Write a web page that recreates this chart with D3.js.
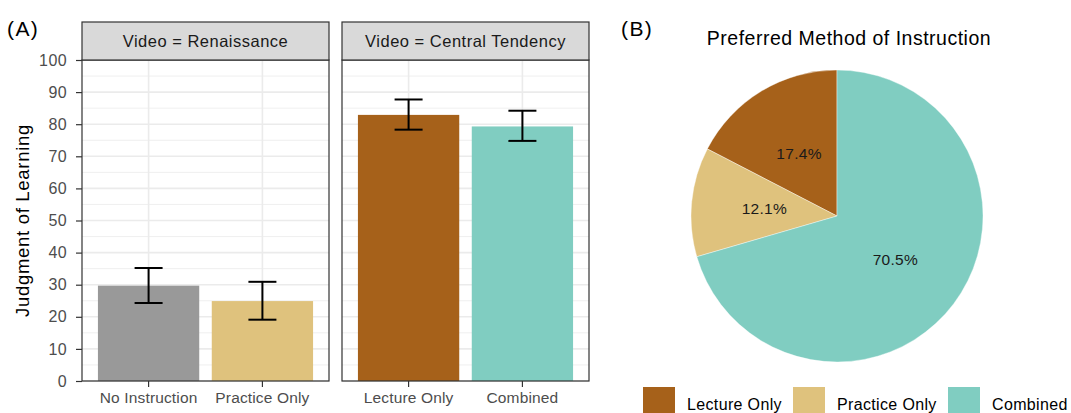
<!DOCTYPE html>
<html>
<head>
<meta charset="utf-8">
<script src="https://cdn.jsdelivr.net/npm/d3@7"></script>
<style>
  body { margin: 0; background: #fff; }
  svg { display: block; font-family: "Liberation Sans", Arial, Helvetica, sans-serif; }
</style>
</head>
<body>
<svg id="chart" width="1071" height="413"></svg>
<script>
// Bar chart data: mean judgment of learning with error bars, per video
const panels = ["Video = Renaissance", "Video = Central Tendency"];
const panelCategories = [["No Instruction", "Practice Only"], ["Lecture Only", "Combined"]];
const jolMeans = [[29.7, 24.9], [82.9, 79.3]];
const jolLower = [[24.3, 19.1], [78.3, 74.8]];
const jolUpper = [[35.2, 30.9], [87.7, 84.2]];
const barColors = [["#999999", "#dfc27d"], ["#a6611a", "#80cdc1"]];
const yTicks = [0, 10, 20, 30, 40, 50, 60, 70, 80, 90, 100];

// Pie chart data: preferred method of instruction
const pieLabels = ["Lecture Only", "Practice Only", "Combined"];
const piePercents = [17.4, 12.1, 70.5];
const pieColors = ["#a6611a", "#dfc27d", "#80cdc1"];

const svg = d3.select("#chart");
const FONT = '"Liberation Sans", Arial, Helvetica, sans-serif';

// ---------- Panel (A): faceted bar chart ----------
const plotTop = 60, plotBottom = 381, stripTop = 22;
const panelX = [[82, 329], [342, 589]];
const y = d3.scaleLinear().domain([0, 100]).range([plotBottom, plotTop]);
const minorTicks = d3.range(5, 100, 10);

svg.append("text").attr("x", 7).attr("y", 36).attr("font-size", 21)
  .attr("letter-spacing", 1.4).attr("fill", "#000").text("(A)");

panels.forEach((title, p) => {
  const [x0, x1] = panelX[p];
  const x = d3.scaleBand().domain(panelCategories[p]).range([x0, x1])
    .paddingInner(0.11).paddingOuter(0.14);
  const g = svg.append("g");

  // grid
  g.selectAll(".minor").data(minorTicks).join("line")
    .attr("x1", x0).attr("x2", x1).attr("y1", d => y(d)).attr("y2", d => y(d))
    .attr("stroke", "#ebebeb").attr("stroke-width", 0.8);
  g.selectAll(".major").data(yTicks).join("line")
    .attr("x1", x0).attr("x2", x1).attr("y1", d => y(d)).attr("y2", d => y(d))
    .attr("stroke", "#ebebeb").attr("stroke-width", 1.6);
  g.selectAll(".vgrid").data(panelCategories[p]).join("line")
    .attr("x1", d => x(d) + x.bandwidth() / 2).attr("x2", d => x(d) + x.bandwidth() / 2)
    .attr("y1", plotTop).attr("y2", plotBottom)
    .attr("stroke", "#ebebeb").attr("stroke-width", 1.6);

  // bars
  g.selectAll(".bar").data(panelCategories[p]).join("rect")
    .attr("x", d => x(d)).attr("width", x.bandwidth())
    .attr("y", (d, i) => y(jolMeans[p][i]))
    .attr("height", (d, i) => y(0) - y(jolMeans[p][i]))
    .attr("fill", (d, i) => barColors[p][i]);

  // error bars
  const hw = 14;
  panelCategories[p].forEach((c, i) => {
    const cx = x(c) + x.bandwidth() / 2;
    const eg = g.append("g").attr("stroke", "#000").attr("stroke-width", 2).attr("fill", "none");
    eg.append("line").attr("x1", cx).attr("x2", cx).attr("y1", y(jolLower[p][i])).attr("y2", y(jolUpper[p][i]));
    eg.append("line").attr("x1", cx - hw).attr("x2", cx + hw).attr("y1", y(jolLower[p][i])).attr("y2", y(jolLower[p][i]));
    eg.append("line").attr("x1", cx - hw).attr("x2", cx + hw).attr("y1", y(jolUpper[p][i])).attr("y2", y(jolUpper[p][i]));
  });

  // panel border
  g.append("rect").attr("x", x0).attr("y", plotTop).attr("width", x1 - x0).attr("height", plotBottom - plotTop)
    .attr("fill", "none").attr("stroke", "#333").attr("stroke-width", 1.2);

  // strip
  g.append("rect").attr("x", x0).attr("y", stripTop).attr("width", x1 - x0).attr("height", plotTop - stripTop)
    .attr("fill", "#d9d9d9").attr("stroke", "#333").attr("stroke-width", 1.2);
  g.append("text").attr("x", (x0 + x1) / 2).attr("y", 47).attr("text-anchor", "middle")
    .attr("font-size", 16.5).attr("letter-spacing", 0.5).attr("fill", "#1a1a1a").text(title);

  // x axis
  const xAxis = d3.axisBottom(x).tickSize(6).tickPadding(5);
  const xa = g.append("g").attr("transform", `translate(0,${plotBottom})`).call(xAxis);
  xa.select(".domain").remove();
  xa.selectAll(".tick line").attr("stroke", "#333").attr("stroke-width", 1.2);
  xa.selectAll(".tick text").attr("font-size", 15.5).attr("letter-spacing", 0.15)
    .attr("fill", "#4d4d4d").attr("font-family", FONT);

  // y axis on first panel
  if (p === 0) {
    const yAxis = d3.axisLeft(y).tickValues(yTicks).tickSize(6).tickPadding(9);
    const ya = g.append("g").attr("transform", `translate(${x0},0)`).call(yAxis);
    ya.select(".domain").remove();
    ya.selectAll(".tick line").attr("stroke", "#333").attr("stroke-width", 1.2);
    ya.selectAll(".tick text").attr("font-size", 16).attr("letter-spacing", 0.4)
      .attr("fill", "#4d4d4d").attr("font-family", FONT);
  }
});

svg.append("text")
  .attr("transform", `translate(29,${(plotTop + plotBottom) / 2}) rotate(-90)`)
  .attr("text-anchor", "middle").attr("font-size", 18.5).attr("letter-spacing", 0.7)
  .attr("fill", "#000").text("Judgment of Learning");

// ---------- Panel (B): pie chart ----------
svg.append("text").attr("x", 621).attr("y", 36).attr("font-size", 21)
  .attr("letter-spacing", 1.4).attr("fill", "#000").text("(B)");
svg.append("text").attr("x", 849).attr("y", 45).attr("text-anchor", "middle")
  .attr("font-size", 19.5).attr("letter-spacing", 0.5).attr("fill", "#000")
  .text("Preferred Method of Instruction");

const cx = 837, cy = 216, radius = 146;
const pie = d3.pie().sort(null).startAngle(0).endAngle(-2 * Math.PI);
const arcs = pie(piePercents);
const arc = d3.arc().innerRadius(0).outerRadius(radius);
const labelArc = d3.arc().innerRadius(radius * 0.5).outerRadius(radius * 0.5);

const pg = svg.append("g").attr("transform", `translate(${cx},${cy})`);
pg.selectAll("path").data(arcs).join("path")
  .attr("d", arc).attr("fill", (d, i) => pieColors[i])
  .attr("stroke", "#fff").attr("stroke-width", 0.4);
pg.selectAll("text").data(arcs).join("text")
  .attr("transform", d => `translate(${labelArc.centroid(d)})`)
  .attr("text-anchor", "middle").attr("dy", "0.35em")
  .attr("font-size", 15.5).attr("letter-spacing", 0.3).attr("fill", "#1a1a1a")
  .text((d, i) => piePercents[i].toFixed(1) + "%");

// legend
const legendX = [643, 793, 948];
const lg = svg.append("g");
pieLabels.forEach((lab, i) => {
  lg.append("rect").attr("x", legendX[i]).attr("y", 387).attr("width", 32).attr("height", 32)
    .attr("fill", pieColors[i]);
  lg.append("text").attr("x", legendX[i] + 44).attr("y", 410).attr("font-size", 16)
    .attr("letter-spacing", 0.35).attr("fill", "#000").text(lab);
});
</script>
</body>
</html>
